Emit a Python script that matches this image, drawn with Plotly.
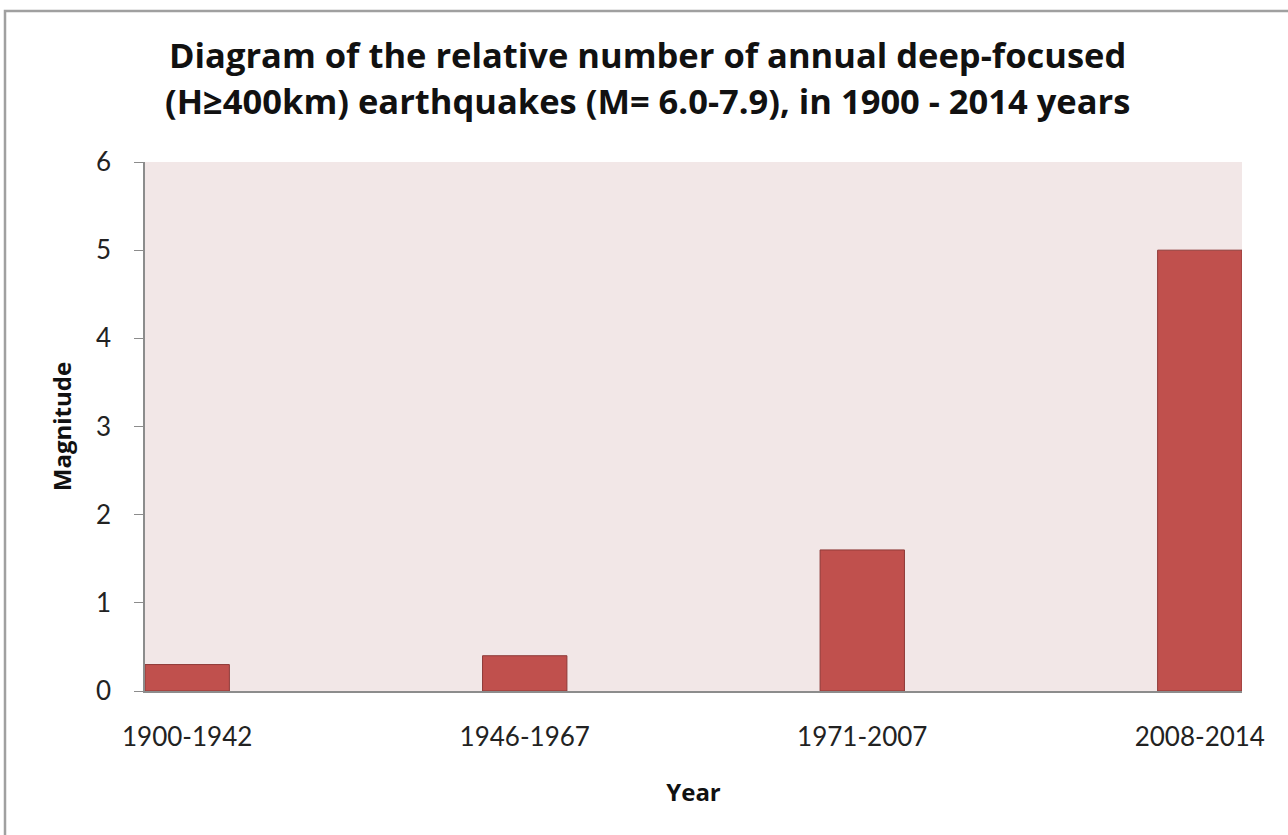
import plotly.graph_objects as go

# Periods and relative annual counts of deep-focused earthquakes
periods = ["1900-1942", "1946-1967", "1971-2007", "2008-2014"]
values = [0.3, 0.4, 1.6, 5.0]
y_ticks = [0, 1, 2, 3, 4, 5, 6]
title_lines = [
    "Diagram of the relative number of annual deep-focused",
    "(H≥400km) earthquakes (M= 6.0-7.9), in 1900 - 2014 years",
]

positions = list(range(len(periods)))
bar_width = 0.25

fig = go.Figure(
    go.Bar(
        x=positions,
        y=values,
        width=bar_width,
        marker=dict(color="#C0504D", line=dict(color="#8E3A38", width=1)),
        hoverinfo="x+y",
    )
)

tick_font = dict(family="Lato, 'Open Sans', sans-serif", size=26, color="#222222")
title_font = dict(family="'Open Sans', Lato, sans-serif", size=24, color="#111111")
head_font = dict(family="'Open Sans', Lato, sans-serif", size=34.5, color="#111111")

# two-line heading, each line placed on its own
heading = [
    dict(
        text=f"<b>{line}</b>",
        xref="paper",
        yref="paper",
        x=0.458,
        y=1 + (162 - yc) / 529,
        xanchor="center",
        yanchor="middle",
        showarrow=False,
        font=head_font,
    )
    for line, yc in zip(title_lines, [54, 100])
]

fig.update_layout(
    width=1288,
    height=835,
    paper_bgcolor="white",
    plot_bgcolor="#F2E7E7",
    showlegend=False,
    margin=dict(l=145, r=46, t=162, b=144),
    annotations=heading,
    xaxis=dict(
        range=[-bar_width / 2, len(periods) - 1 + bar_width / 2],
        tickmode="array",
        tickvals=positions,
        ticktext=periods,
        tickfont=tick_font,
        ticks="",
        ticklabelstandoff=22,
        showgrid=False,
        zeroline=False,
        showline=True,
        linecolor="#8C8C8C",
        linewidth=1.5,
        title=dict(text="<b>Year</b>", font=title_font, standoff=33),
    ),
    yaxis=dict(
        range=[0, 6],
        tickmode="array",
        tickvals=y_ticks,
        tickfont=tick_font,
        ticks="outside",
        ticklen=9,
        tickcolor="#8C8C8C",
        ticklabelstandoff=18,
        showgrid=False,
        zeroline=False,
        showline=True,
        linecolor="#8C8C8C",
        linewidth=1.5,
        title=dict(text="<b>Magnitude</b>", font=title_font, standoff=18),
    ),
    shapes=[
        # outer frame around the chart
        dict(
            type="rect",
            xref="paper",
            yref="paper",
            x0=-140 / 1097,
            x1=1.2,
            y0=-0.5,
            y1=1 + (162 - 11) / 529,
            line=dict(color="#A0A0A0", width=2.5),
            fillcolor="rgba(0,0,0,0)",
            layer="below",
        )
    ],
)

fig.write_html("out.html")
